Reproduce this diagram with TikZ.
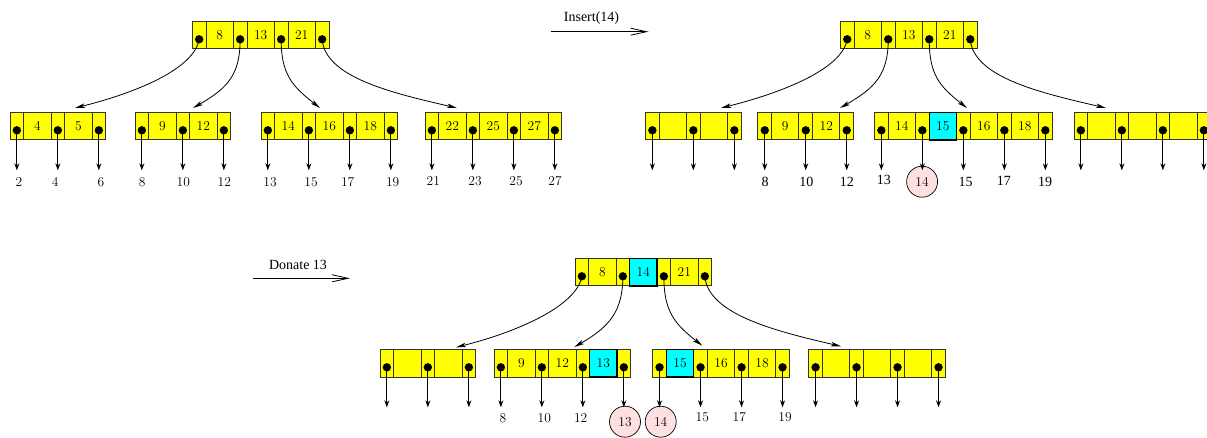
\documentclass[tikz,border=0pt]{standalone}
\usepackage{fontspec}
\newfontfamily\tms{Liberation Serif}
\usetikzlibrary{arrows.meta,calc}
\definecolor{byel}{RGB}{255,255,0}
\definecolor{bcyan}{RGB}{0,255,255}
\definecolor{bbord}{RGB}{50,50,50}
\definecolor{bpink}{RGB}{255,224,224}
\newcommand\numfont{\fontsize{13.5}{16}\selectfont}
\tikzset{
 pcell/.style={draw=bbord, fill=byel, line width=1pt, minimum width=13.7pt, minimum height=27.7pt, inner sep=0pt, outer sep=0pt, anchor=north west, font=\numfont},
 kcell/.style={pcell, minimum width=27.3pt},
 n/.style={},
 hl/.style={fill=bcyan, draw=black, line width=1.4pt},
 ptrdot/.style={fill=black},
 varrow/.style={line width=0.8pt, -{Stealth[length=7pt,width=5pt]}},
 carrow/.style={line width=0.8pt, -{Stealth[length=10pt,width=4.5pt,inset=2.5pt]}},
 oparrow/.style={line width=0.8pt, -{Straight Barb[length=16pt,width=7pt]}},
 lab/.style={inner sep=0pt, font=\numfont},
 tlab/.style={inner sep=0pt, font=\tms\fontsize{14}{16}\selectfont},
 circ/.style={circle, draw=black, fill=bpink, line width=0.7pt, minimum size=31pt, inner sep=0pt, font=\numfont},
}
% \bnode{name}{x}{y}{nkeys}{keys}
\newcommand\bnode[5]{%
 \foreach \j in {0,...,#4}{
   \node[pcell] (#1-p\j) at ({#2+\j*41},{-#3}) {};
   \coordinate (#1-d\j) at ({#2+\j*41+6.85},{-#3-18});
 }
 \foreach \s/\t [count=\i] in {#5}{
   \node[kcell,\s] (#1-k\i) at ({#2+(\i-1)*41+13.7},{-#3}) {\t};
 }
 \foreach \j in {0,...,#4}{ \fill[ptrdot] (#1-d\j) circle (4.2pt); }
}
\newcommand\leafarrows[2]{%
 \foreach \j in {0,...,#2}{
   \coordinate (#1-e\j) at ($(#1-d\j)+(0,-40)$);
   \draw[varrow] (#1-d\j) -- (#1-e\j);
 }}
\begin{document}
\begin{tikzpicture}[x=1pt,y=1pt]
\useasboundingbox (0,0) rectangle (1207,-438);
\clip (0,0) rectangle (1207,-438);

% ---------- top-left tree ----------
\bnode{TLR}{192.3}{21.3}{3}{n/8,n/13,n/21}
\bnode{TLA}{10}{112.3}{2}{n/4,n/5}
\bnode{TLB}{135}{112.3}{2}{n/9,n/12}
\bnode{TLC}{261}{112.3}{3}{n/14,n/16,n/18}
\bnode{TLD}{425}{112.3}{3}{n/22,n/25,n/27}
\leafarrows{TLA}{2}\leafarrows{TLB}{2}\leafarrows{TLC}{3}\leafarrows{TLD}{3}
\coordinate (TLA-t) at (75,-108);
\coordinate (TLB-t) at (193,-108);
\coordinate (TLC-t) at (320,-108);
\coordinate (TLD-t) at (457,-108);
\draw[carrow] (TLR-d0) .. controls +(-5,-30) and +(60,15) .. (TLA-t);
\draw[carrow] (TLR-d1) .. controls +(0,-35) and +(35,20) .. (TLB-t);
\draw[carrow] (TLR-d2) .. controls +(0,-35) and +(-28,22) .. (TLC-t);
\draw[carrow] (TLR-d3) .. controls +(3,-38) and +(-65,15) .. (TLD-t);
\node[lab] (l1) at (19,-181.7) {2};
\node[lab] (l2) at (55.3,-181.7) {4};
\node[lab] (l3) at (101,-181.7) {6};
\node[lab] (l4) at (142.3,-181.7) {8};
\node[lab] (l5) at (183.3,-181.7) {10};
\node[lab] (l6) at (224.3,-181.7) {12};
\node[lab] (l7) at (270,-181.7) {13};
\node[lab] (l8) at (311,-181.7) {15};
\node[lab] (l9) at (347.7,-181.7) {17};
\node[lab] (l10) at (392.7,-181.7) {19};
\node[lab] (l11) at (433.3,-181) {21};
\node[lab] (l12) at (475,-181) {23};
\node[lab] (l13) at (516,-181) {25};
\node[lab] (l14) at (555,-181) {27};

% ---------- Insert(14) ----------
\node[tlab] (ins) at (591.5,-18) {Insert(14)};
\coordinate (ins-a) at (550.6,-31.7);
\coordinate (ins-b) at (648.5,-31.7);
\draw[oparrow] (ins-a) -- (ins-b);

% ---------- top-right tree ----------
\node[circ] (c14a) at (922.1,-181.7) {14};
\bnode{TRR}{840.4}{21.3}{3}{n/8,n/13,n/21}
\bnode{TRA}{645.5}{112.3}{2}{n/{},n/{}}
\bnode{TRB}{757.9}{112.3}{2}{n/9,n/12}
\bnode{TRC}{874.5}{112.3}{4}{n/14,hl/15,n/16,n/18}
\bnode{TRD}{1074}{112.3}{3}{n/{},n/{},n/{}}
\leafarrows{TRA}{2}\leafarrows{TRB}{2}\leafarrows{TRC}{4}\leafarrows{TRD}{3}
\coordinate (TRA-t) at (721,-108);
\coordinate (TRB-t) at (840,-108);
\coordinate (TRC-t) at (967,-108);
\coordinate (TRD-t) at (1106,-108);
\draw[carrow] (TRR-d0) .. controls +(-5,-30) and +(60,15) .. (TRA-t);
\draw[carrow] (TRR-d1) .. controls +(0,-35) and +(35,20) .. (TRB-t);
\draw[carrow] (TRR-d2) .. controls +(0,-35) and +(-28,22) .. (TRC-t);
\draw[carrow] (TRR-d3) .. controls +(3,-38) and +(-65,15) .. (TRD-t);
\node[tlab] (r1) at (765.1,-181.7) {8};
\node[tlab] (r2) at (806.4,-181.7) {10};
\node[tlab] (r3) at (846.8,-181.7) {12};
\node[tlab] (r4) at (883.8,-180) {13};
\node[tlab] (r5) at (965.5,-181.7) {15};
\node[tlab] (r6) at (1003.8,-181) {17};
\node[tlab] (r7) at (1045.1,-182) {19};

% ---------- Donate 13 ----------
\node[tlab] (don) at (298,-265) {Donate 13};
\coordinate (don-a) at (253.3,-278.3);
\coordinate (don-b) at (350,-278.3);
\draw[oparrow] (don-a) -- (don-b);

% ---------- bottom tree ----------
\node[circ] (c13b) at (625,-421.7) {13};
\node[circ] (c14b) at (660.7,-421.7) {14};
\bnode{BR}{575}{258.3}{3}{n/8,hl/14,n/21}
\bnode{BA}{380}{349.3}{2}{n/{},n/{}}
\bnode{BB}{494}{349.3}{3}{n/9,n/12,hl/13}
\bnode{BC}{652.7}{349.3}{3}{hl/15,n/16,n/18}
\bnode{BD}{808.7}{349.3}{3}{n/{},n/{},n/{}}
\leafarrows{BA}{2}\leafarrows{BB}{3}\leafarrows{BC}{3}\leafarrows{BD}{3}
\coordinate (BA-t) at (456,-347.3);
\coordinate (BB-t) at (574.3,-347);
\coordinate (BC-t) at (702.3,-345.7);
\coordinate (BD-t) at (841,-346.3);
\draw[carrow] (BR-d0) .. controls +(-5,-30) and +(60,15) .. (BA-t);
\draw[carrow] (BR-d1) .. controls +(0,-35) and +(35,20) .. (BB-t);
\draw[carrow] (BR-d2) .. controls +(0,-35) and +(-28,22) .. (BC-t);
\draw[carrow] (BR-d3) .. controls +(3,-38) and +(-65,15) .. (BD-t);
\node[lab] (b1) at (503,-418.3) {8};
\node[lab] (b2) at (544.3,-418.3) {10};
\node[lab] (b3) at (580.7,-418.3) {12};
\node[lab] (b4) at (702.3,-416.7) {15};
\node[lab] (b5) at (739.3,-417) {17};
\node[lab] (b6) at (785,-417) {19};
\end{tikzpicture}
\end{document}
